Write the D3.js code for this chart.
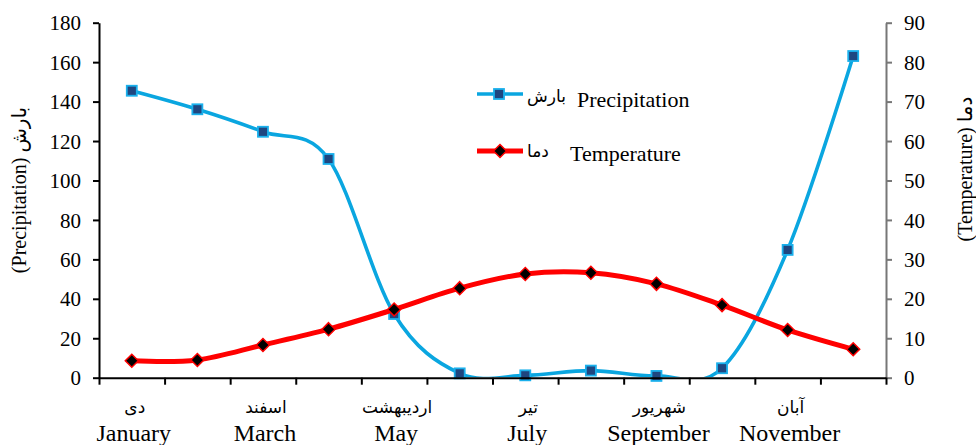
<!DOCTYPE html>
<html>
<head>
<meta charset="utf-8">
<script src="https://cdn.jsdelivr.net/npm/d3@7"></script>
<style>
  html, body { margin: 0; padding: 0; background: #fff; }
  svg { display: block; }
  text { font-family: "Liberation Serif", "DejaVu Sans", serif; fill: #000; }
</style>
</head>
<body>
<svg id="chart" width="976" height="445"></svg>
<script>
// ---------------- data ----------------
const monthsEn = ["January","February","March","April","May","June","July","August","September","October","November","December"];
const monthsFa = ["دی","بهمن","اسفند","فروردین","اردیبهشت","خرداد","تیر","مرداد","شهریور","مهر","آبان","آذر"];
const precipitation = [145.5, 136.1, 124.7, 110.9, 32.3, 2.2, 1.2, 3.6, 0.9, 4.8, 64.8, 163.1];
const temperature   = [4.3, 4.5, 8.3, 12.3, 17.3, 22.7, 26.3, 26.6, 23.8, 18.4, 12.1, 7.2];
const leftTicks  = [0, 20, 40, 60, 80, 100, 120, 140, 160, 180];
const rightTicks = [0, 10, 20, 30, 40, 50, 60, 70, 80, 90];
const seriesNames = { precipEn: "Precipitation", precipFa: "بارش", tempEn: "Temperature", tempFa: "دما" };
const axisTitles = { left: "(Precipitation) بارش", right: "(Temperature) دما" };

// ---------------- layout ----------------
const L = 99, R = 886, T = 22.7, B = 377.7;
const svg = d3.select("#chart");

const x = d3.scaleBand().domain(monthsEn).range([L, R]).paddingInner(0).paddingOuter(0);
const cx = d => x(d) + x.bandwidth() / 2;
const xb = d3.scaleLinear().domain([0, monthsEn.length]).range([L, R]);
const yL = d3.scaleLinear().domain([0, 180]).range([B, T]);
const yR = d3.scaleLinear().domain([0, 90]).range([B, T]);

// clip for lines (plot area)
svg.append("defs").append("clipPath").attr("id", "plotClip")
  .append("rect").attr("x", L).attr("y", 0).attr("width", R - L).attr("height", B - 0.5);

// ---------------- series ----------------
const curve = d3.curveCardinal.tension(0);
const precipLine = d3.line().x((d, i) => cx(monthsEn[i])).y(d => yL(d)).curve(curve);
const tempLine = d3.line().x((d, i) => cx(monthsEn[i])).y(d => yR(d)).curve(curve);

const gP = svg.append("g");
gP.append("path").attr("d", precipLine(precipitation))
  .attr("fill", "none").attr("stroke", "#0AA6E0").attr("stroke-width", 3.6)
  .attr("clip-path", "url(#plotClip)");
gP.selectAll("rect").data(precipitation).join("rect")
  .attr("x", (d, i) => cx(monthsEn[i]) - 5).attr("y", d => yL(d) - 5)
  .attr("width", 10).attr("height", 10)
  .attr("fill", "#1F4680").attr("stroke", "#1AB0EC").attr("stroke-width", 1.8);

// ---------------- axes ----------------
const axisFont = 21;
const gLeft = svg.append("g").attr("transform", `translate(${L},0)`)
  .call(d3.axisLeft(yL).tickValues(leftTicks).tickSize(6).tickPadding(12).tickSizeOuter(0));
gLeft.select(".domain").attr("stroke", "#000").attr("stroke-width", 2);
gLeft.selectAll(".tick line").attr("stroke", "#000").attr("stroke-width", 2);
gLeft.selectAll(".tick text").attr("font-size", axisFont).attr("font-family", "Liberation Serif").attr("dy", "0.34em");

const gRight = svg.append("g").attr("transform", `translate(${R},0)`)
  .call(d3.axisRight(yR).tickValues(rightTicks).tickSize(6).tickPadding(12).tickSizeOuter(0));
gRight.select(".domain").attr("stroke", "#777").attr("stroke-width", 2);
gRight.selectAll(".tick line").attr("stroke", "#777").attr("stroke-width", 2);
gRight.selectAll(".tick text").attr("font-size", axisFont).attr("font-family", "Liberation Serif").attr("dy", "0.34em");

const gBottom = svg.append("g").attr("transform", `translate(0,${B})`)
  .call(d3.axisBottom(xb).tickValues(d3.range(0, monthsEn.length + 1)).tickSize(7).tickFormat("").tickSizeOuter(0));
gBottom.select(".domain").attr("stroke", "#000").attr("stroke-width", 2);
gBottom.selectAll(".tick line").attr("stroke", "#000").attr("stroke-width", 2);

// category labels (every second)
const labelIdx = d3.range(0, monthsEn.length, 2);
const gCat = svg.append("g");
gCat.selectAll("text.fa").data(labelIdx).join("text").attr("class", "fa")
  .attr("x", i => cx(monthsEn[i]) + 3).attr("y", 413)
  .attr("text-anchor", "middle").attr("font-size", 17)
  .attr("font-family", "DejaVu Sans")
  .text(i => monthsFa[i]);
gCat.selectAll("text.en").data(labelIdx).join("text").attr("class", "en")
  .attr("x", i => cx(monthsEn[i]) + 2).attr("y", 441)
  .attr("text-anchor", "middle").attr("font-size", 24)
  .text(i => monthsEn[i]);

// ---------------- temperature on top ----------------
const gT = svg.append("g");
gT.append("path").attr("d", tempLine(temperature))
  .attr("fill", "none").attr("stroke", "#FF0000").attr("stroke-width", 5)
  .attr("clip-path", "url(#plotClip)");
const diamond = (px, py, r) => `M${px},${py - r}L${px + r},${py}L${px},${py + r}L${px - r},${py}Z`;
gT.selectAll("path.mk").data(temperature).join("path").attr("class", "mk")
  .attr("d", (d, i) => diamond(cx(monthsEn[i]), yR(d), 6.5))
  .attr("fill", "#000").attr("stroke", "#FF0000").attr("stroke-width", 1.5);

// ---------------- axis titles ----------------
svg.append("text")
  .attr("transform", `translate(26,190) rotate(-90)`)
  .attr("text-anchor", "middle").attr("font-size", 20)
  .attr("direction", "ltr")
  .text(axisTitles.left);
svg.append("text")
  .attr("transform", `translate(972,169) rotate(-90)`)
  .attr("text-anchor", "middle").attr("font-size", 20)
  .attr("direction", "ltr")
  .text(axisTitles.right);

// ---------------- legend ----------------
const lg = svg.append("g");
lg.append("line").attr("x1", 477).attr("x2", 523).attr("y1", 94).attr("y2", 94)
  .attr("stroke", "#0AA6E0").attr("stroke-width", 3.6);
lg.append("rect").attr("x", 494).attr("y", 89).attr("width", 10).attr("height", 10)
  .attr("fill", "#1F4680").attr("stroke", "#1AB0EC").attr("stroke-width", 1.8);
lg.append("text").attr("x", 527).attr("y", 102).attr("font-size", 17).attr("font-family", "DejaVu Sans").text(seriesNames.precipFa);
lg.append("text").attr("x", 577).attr("y", 107).attr("font-size", 22).text(seriesNames.precipEn);

lg.append("line").attr("x1", 477).attr("x2", 523).attr("y1", 151).attr("y2", 151)
  .attr("stroke", "#FF0000").attr("stroke-width", 5);
lg.append("path").attr("d", diamond(500, 151, 6.5))
  .attr("fill", "#000").attr("stroke", "#FF0000").attr("stroke-width", 1.5);
lg.append("text").attr("x", 527).attr("y", 157).attr("font-size", 17).attr("font-family", "DejaVu Sans").text(seriesNames.tempFa);
lg.append("text").attr("x", 570).attr("y", 161).attr("font-size", 22).text(seriesNames.tempEn);
</script>
</body>
</html>
